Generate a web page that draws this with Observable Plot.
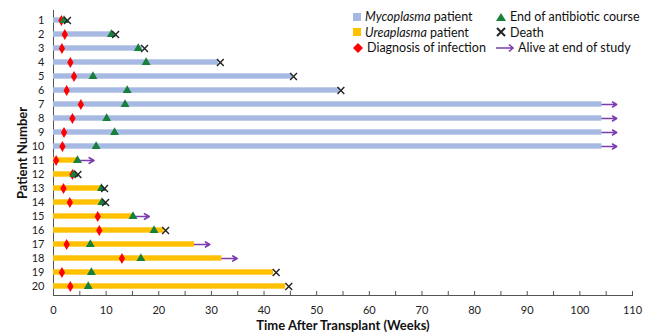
<!DOCTYPE html>
<html>
<head>
<meta charset="utf-8">
<script src="https://cdn.jsdelivr.net/npm/d3@7"></script>
<script src="https://cdn.jsdelivr.net/npm/@observablehq/plot@0.6"></script>
<style>
  body { margin: 0; background: #fff; }
  #wrap { position: relative; width: 649px; height: 333px; font-family: Lato, "Open Sans", sans-serif; }
  #legend { position: absolute; left: 352px; top: 9px; font-size: 12.5px; color: #111; display: grid; grid-template-columns: 143px 140px; row-gap: 0px; }
  #legend div { display: flex; align-items: center; height: 15.5px; white-space: nowrap; }
  #legend svg { margin-right: 3px; flex: none; }
</style>
</head>
<body>
<div id="wrap">
  <div id="chart"></div>
  <div id="legend"></div>
</div>
<script>
// ---- data ----
const patients = d3.range(1, 21);
const organism = ["Mycoplasma","Mycoplasma","Mycoplasma","Mycoplasma","Mycoplasma","Mycoplasma","Mycoplasma","Mycoplasma","Mycoplasma","Mycoplasma",
                  "Ureaplasma","Ureaplasma","Ureaplasma","Ureaplasma","Ureaplasma","Ureaplasma","Ureaplasma","Ureaplasma","Ureaplasma","Ureaplasma"];
const followUpEnd = [2.3, 11.2, 16.9, 31.4, 45.4, 54.4, 104.2, 104.2, 104.2, 104.2, 4.5, 4.1, 9.3, 9.4, 15.0, 21.0, 26.8, 32.0, 41.8, 44.1];
const diagnosis   = [1.5, 2.15, 1.6, 3.2, 3.9, 2.5, 5.2, 3.6, 2.0, 1.7, 0.5, 3.6, 1.9, 3.1, 8.4, 8.7, 2.5, 13.0, 1.6, 3.2];
const antibioticEnd = [2.0, 11.0, 16.1, 17.6, 7.5, 14.0, 13.6, 10.1, 11.6, 8.1, 4.55, 3.9, 9.1, 9.2, 15.1, 19.1, 7.0, 16.6, 7.2, 6.6];
const death       = [2.65, 11.8, 17.3, 31.7, 45.6, 54.6, null, null, null, null, null, 4.65, 9.7, 9.9, null, 21.3, null, null, 42.3, 44.7];
const aliveTip    = [null, null, null, null, null, null, 107, 107, 107, 107, 7.7, null, null, null, 18.2, null, 29.7, 34.9, null, null];
const xTicksMajor = d3.range(0, 111, 10);
const xTicksMinor = d3.range(0, 111, 5);

const colors = {Mycoplasma: "#A6B9E2", Ureaplasma: "#FFC000"};
const red = "#FF0000", green = "#16803C", purple = "#7B3CB0", dark = "#222";

const rows = patients.map((p, i) => ({
  patient: p, organism: organism[i], end: followUpEnd[i], diag: diagnosis[i],
  abx: antibioticEnd[i], death: death[i], tip: aliveTip[i]
}));

const chart = Plot.plot({
  width: 649, height: 333,
  marginLeft: 53, marginRight: 17, marginTop: 10, marginBottom: 38,
  style: {fontFamily: "Lato, 'Open Sans', sans-serif", fontSize: "11px", color: "#222"},
  x: {domain: [0, 110]},
  y: {domain: patients, type: "band", padding: 0},
  marks: [
    Plot.axisX({ticks: xTicksMinor, tickSize: -4, tickFormat: () => "", stroke: "#555"}),
    Plot.axisX({ticks: xTicksMajor, tickSize: 0, tickPadding: 11, label: "Time After Transplant (Weeks)", labelAnchor: "center", labelOffset: 34, fontSize: 11}),
    Plot.axisY({tickSize: 0, tickPadding: 9, label: "Patient Number", labelAnchor: "center", labelOffset: 36, fontSize: 11}),
    Plot.frame({anchor: "bottom", stroke: "#555"}),
    Plot.ruleX([0], {stroke: "#555"}),
    Plot.barX(rows, {x1: 0, x2: "end", y: "patient", fill: d => colors[d.organism], insetTop: 4.3, insetBottom: 4.3}),
    Plot.arrow(rows.filter(d => d.tip != null), {x1: "end", x2: "tip", y: "patient", stroke: purple, strokeWidth: 1.6, headLength: 7, bend: false}),
    Plot.dot(rows, {x: "diag", y: "patient", symbol: "diamond", r: 3.3, fill: red}),
    Plot.dot(rows, {x: "abx", y: "patient", symbol: "triangle", r: 3.3, fill: green}),
    Plot.dot(rows.filter(d => d.death != null), {x: "death", y: "patient", symbol: "times", r: 3.2, stroke: dark, strokeWidth: 1.4})
  ]
});
document.getElementById("chart").appendChild(chart);

// style axis labels bold, drop arrows
chart.querySelectorAll("g[aria-label='x-axis label'] text, g[aria-label='y-axis label'] text").forEach(t => {
  t.textContent = t.textContent.replace(/\s*[→↑←↓]\s*/g, "").trim();
  t.setAttribute("font-weight", "bold");
  t.setAttribute("font-size", "13");
  t.setAttribute("fill", "#111");
});

// legend
const legendItems = [
  {html: "<i>Mycoplasma</i> patient", sw: `<svg width="10" height="10"><rect x="1" y="1" width="8" height="8" fill="${colors.Mycoplasma}"/></svg>`},
  {html: "End of antibiotic course", sw: `<svg width="12" height="10"><path d="M6,1L11,9H1Z" fill="${green}"/></svg>`},
  {html: "<i>Ureaplasma</i> patient", sw: `<svg width="10" height="10"><rect x="1" y="1" width="8" height="8" fill="${colors.Ureaplasma}"/></svg>`},
  {html: "Death", sw: `<svg width="12" height="10"><path d="M2,1L10,9M10,1L2,9" stroke="${dark}" stroke-width="2"/></svg>`},
  {html: "Diagnosis of infection", sw: `<svg width="12" height="12"><path d="M6,1L11,6L6,11L1,6Z" fill="${red}"/></svg>`},
  {html: "Alive at end of study", sw: `<svg width="20" height="10"><path d="M1,5H18M14,1.5L18,5L14,8.5" stroke="${purple}" stroke-width="1.6" fill="none"/></svg>`}
];
const leg = document.getElementById("legend");
legendItems.forEach(it => {
  const d = document.createElement("div");
  d.innerHTML = it.sw + "<span>" + it.html + "</span>";
  leg.appendChild(d);
});
</script>
</body>
</html>
